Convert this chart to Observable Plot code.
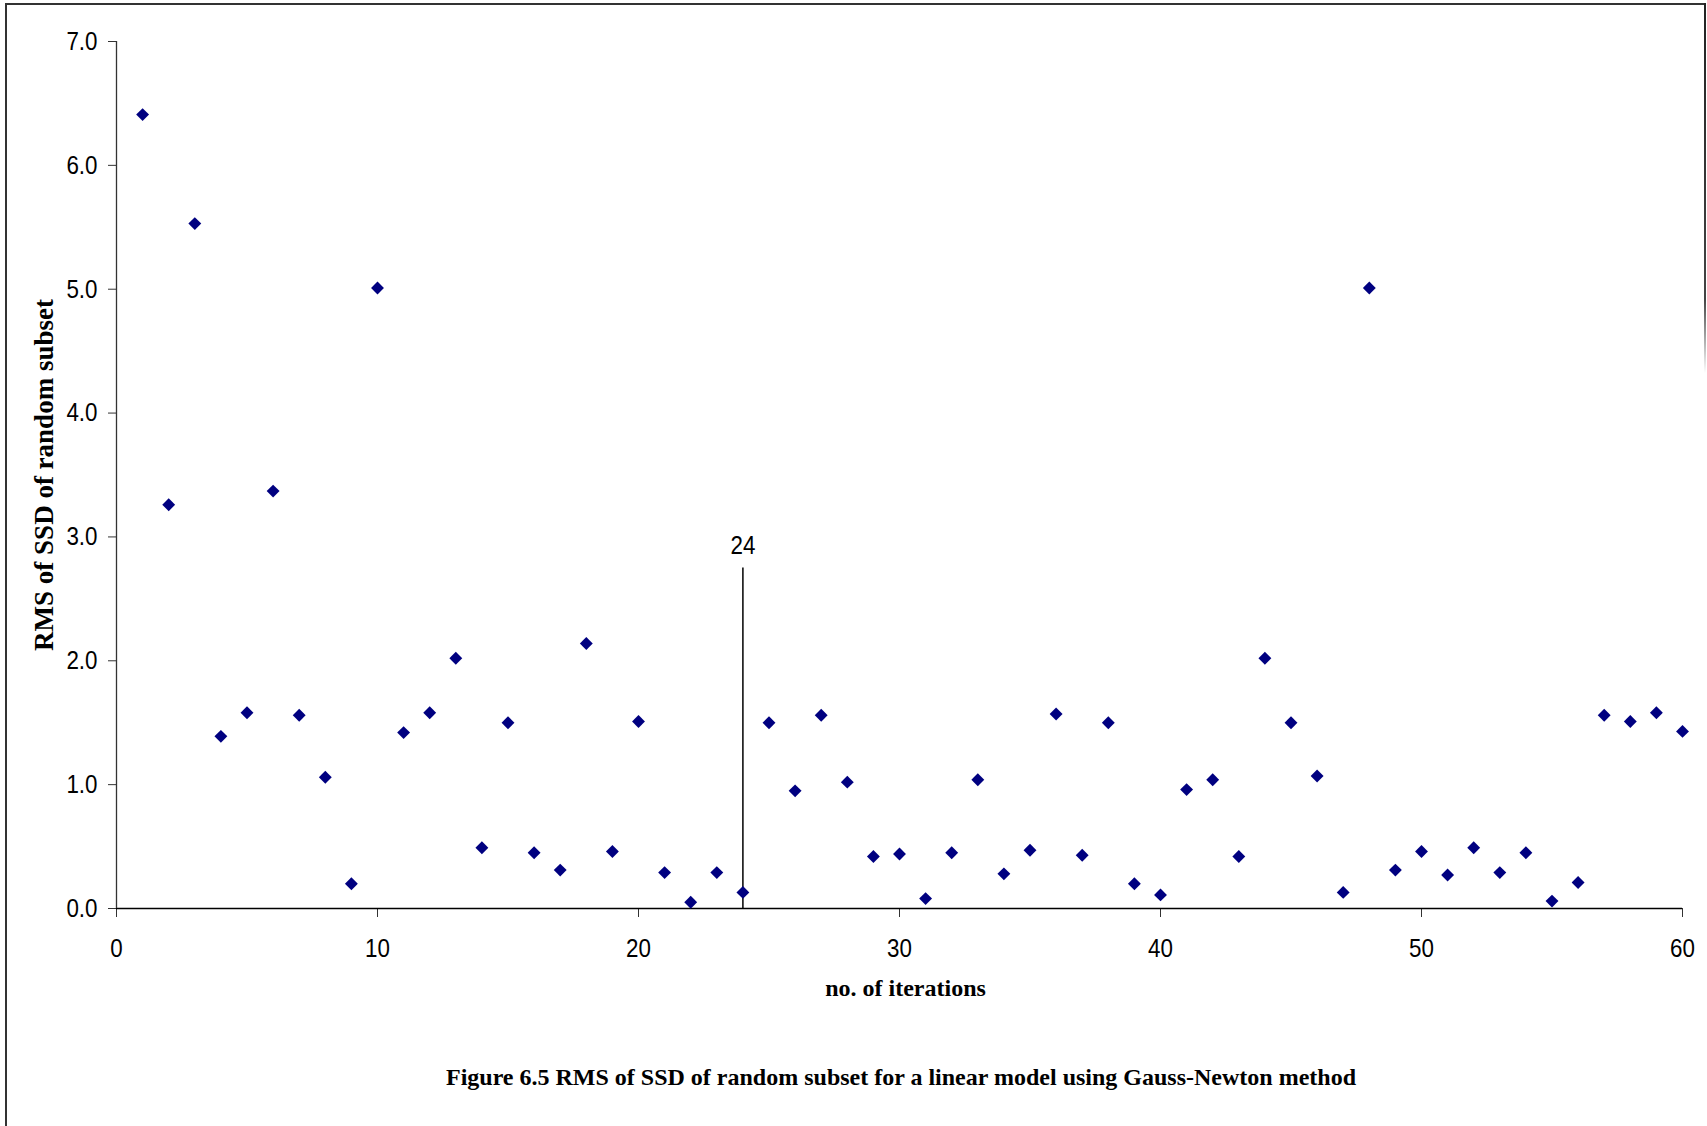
<!DOCTYPE html>
<html>
<head>
<meta charset="utf-8">
<script src="https://cdn.jsdelivr.net/npm/d3@7"></script>
<script src="https://cdn.jsdelivr.net/npm/@observablehq/plot@0.6"></script>
<style>
  html, body { margin: 0; padding: 0; background: #fff; }
  #page { position: relative; width: 1707px; height: 1126px; overflow: hidden; background: #fff; }
  #frameTop { position: absolute; left: 5px; top: 3px; width: 1701px; height: 2px; background: #333; }
  #frameLeft { position: absolute; left: 5px; top: 3px; width: 2px; height: 1123px; background: #333; }
  #frameRight { position: absolute; left: 1704px; top: 3px; width: 2px; height: 370px; background: linear-gradient(#222 0%, #444 80%, rgba(255,255,255,0) 100%); }
  #chart { position: absolute; left: 0; top: 0; }
  #caption { position: absolute; left: 0; width: 1802px; top: 1064px; text-align: center;
    font-family: "Liberation Serif", "Times New Roman", serif; font-weight: bold; font-size: 24px; color: #000; }
</style>
</head>
<body>
<div id="page">
  <div id="chart"></div>
  <div id="frameTop"></div>
  <div id="frameLeft"></div>
  <div id="frameRight"></div>
  <div id="caption">Figure 6.5 RMS of SSD of random subset for a linear model using Gauss-Newton method</div>
</div>
<script>
// iteration numbers 1..60
const iterations = [
  1,2,3,4,5,6,7,8,9,10,
  11,12,13,14,15,16,17,18,19,20,
  21,22,23,24,25,26,27,28,29,30,
  31,32,33,34,35,36,37,38,39,40,
  41,42,43,44,45,46,47,48,49,50,
  51,52,53,54,55,56,57,58,59,60
];
// RMS of SSD of random subset
const rmsValues = [
  6.41, 3.26, 5.53, 1.39, 1.58, 3.37, 1.56, 1.06, 0.20, 5.01,
  1.42, 1.58, 2.02, 0.49, 1.50, 0.45, 0.31, 2.14, 0.46, 1.51,
  0.29, 0.05, 0.29, 0.13, 1.50, 0.95, 1.56, 1.02, 0.42, 0.44,
  0.08, 0.45, 1.04, 0.28, 0.47, 1.57, 0.43, 1.50, 0.20, 0.11,
  0.96, 1.04, 0.42, 2.02, 1.50, 1.07, 0.13, 5.01, 0.31, 0.46,
  0.27, 0.49, 0.29, 0.45, 0.06, 0.21, 1.56, 1.51, 1.58, 1.43
];
const xTicks = [0, 10, 20, 30, 40, 50, 60];
const yTicks = [0, 1, 2, 3, 4, 5, 6, 7];
// marker line at the selected iteration
const markerIteration = [24];
const markerTop = [2.75];
const markerLabel = ["24"];

const xLabel = "no. of iterations";
const yLabel = "RMS of SSD of random subset";

const data = iterations.map((it, i) => ({iteration: it, rms: rmsValues[i]}));
const marker = markerIteration.map((m, i) => ({x: m, top: markerTop[i], label: markerLabel[i]}));

const sansFont = '"Liberation Sans", Arial, sans-serif';
const serifFont = '"Liberation Serif", "Times New Roman", serif';

const chart = Plot.plot({
  width: 1707,
  height: 1020,
  marginLeft: 116,
  marginRight: 25,
  marginTop: 41,
  marginBottom: 112,
  style: {fontFamily: sansFont, fontSize: "26px", color: "#000", background: "transparent"},
  x: {domain: [0, 60]},
  y: {domain: [0, 7]},
  marks: [
    Plot.axisX({ticks: xTicks, tickSize: 9, tickPadding: 21, tickFormat: d3.format("d"), label: null, stroke: "#333", fontSize: 26, className: "narrow"}),
    Plot.axisY({ticks: yTicks, tickSize: 8, tickPadding: 11, tickFormat: d3.format(".1f"), label: null, stroke: "#333", fontSize: 26, className: "narrow"}),
    Plot.ruleY([0], {stroke: "#000", strokeWidth: 1.3}),
    Plot.ruleX([0], {stroke: "#333", strokeWidth: 1.3}),
    Plot.ruleX(marker, {x: "x", y1: 0, y2: "top", stroke: "#000", strokeWidth: 1.5}),
    Plot.text(marker, {x: "x", y: "top", text: "label", dy: -22, lineAnchor: "middle", fontSize: 26, fill: "#000", className: "narrow"}),
    Plot.dot(data, {x: "iteration", y: "rms", symbol: "diamond2", r: 5.8, fill: "#000080", stroke: "none"}),
    Plot.text([xLabel], {frameAnchor: "bottom", text: d => d, dx: 6, dy: 80, lineAnchor: "middle",
      fontFamily: serifFont, fontWeight: "bold", fontSize: 24, fill: "#000"}),
    Plot.text([yLabel], {frameAnchor: "left", text: d => d, rotate: -90, dx: -72, textAnchor: "middle", lineAnchor: "middle",
      fontFamily: serifFont, fontWeight: "bold", fontSize: 27, fill: "#000"})
  ]
});
document.getElementById("chart").appendChild(chart);

// condense the sans-serif labels horizontally, like the reference's narrow font
d3.select(chart).selectAll("g.narrow text").each(function () {
  const w = this.getComputedTextLength();
  this.setAttribute("textLength", (w * 0.86).toFixed(2));
  this.setAttribute("lengthAdjust", "spacingAndGlyphs");
});
</script>
</body>
</html>
